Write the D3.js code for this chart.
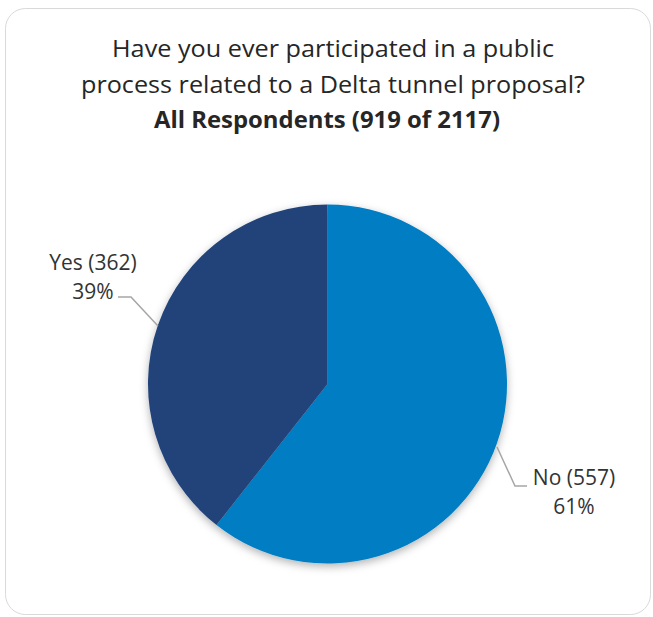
<!DOCTYPE html>
<html>
<head>
<meta charset="utf-8">
<script src="https://cdn.jsdelivr.net/npm/d3@7"></script>
<style>
  html, body { margin: 0; padding: 0; background: #ffffff; }
  svg { display: block; }
</style>
</head>
<body>
<div id="chart"></div>
<script>
// Survey responses
const categories = ["No", "Yes"];
const counts = [557, 362];
const sliceColors = ["#007DC3", "#23437A"];
const titleLines = [
  "Have you ever participated in a public",
  "process related to a Delta tunnel proposal?"
];
const subtitle = "All Respondents (919 of 2117)";

const W = 653, H = 617;
const svg = d3.select("#chart").append("svg")
  .attr("width", W).attr("height", H);

const defs = svg.append("defs");
const shadow = defs.append("filter").attr("id", "pieShadow")
  .attr("x", "-20%").attr("y", "-20%").attr("width", "140%").attr("height", "140%");
shadow.append("feDropShadow")
  .attr("dx", 0).attr("dy", 3).attr("stdDeviation", 4)
  .attr("flood-color", "#000").attr("flood-opacity", 0.3);

// Chart area frame
svg.append("rect")
  .attr("x", 5.5).attr("y", 8.5)
  .attr("width", 645).attr("height", 606)
  .attr("rx", 20).attr("ry", 20)
  .attr("fill", "#fff").attr("stroke", "#d9d9d9").attr("stroke-width", 1);

// Title
const fontFamily = "'Open Sans', 'Noto Sans', sans-serif";
const titleWidths = [442, 504];
const titleBase = [57, 93];
titleLines.forEach((t, i) => {
  svg.append("text")
    .attr("x", 333).attr("y", titleBase[i])
    .attr("text-anchor", "middle")
    .attr("font-family", fontFamily).attr("font-size", 23)
    .attr("fill", "#262626")
    .attr("textLength", titleWidths[i]).attr("lengthAdjust", "spacingAndGlyphs")
    .text(t);
});
svg.append("text")
  .attr("x", 327).attr("y", 128)
  .attr("text-anchor", "middle")
  .attr("font-family", fontFamily).attr("font-size", 23).attr("font-weight", "bold")
  .attr("fill", "#262626")
  .attr("textLength", 346).attr("lengthAdjust", "spacingAndGlyphs")
  .text(subtitle);

// Pie
const cx = 327.5, cy = 384, r = 179.5;
const total = d3.sum(counts);
const data = categories.map((c, i) => ({ cat: c, value: counts[i], color: sliceColors[i] }));
const pie = d3.pie().sort(null).value(d => d.value);
const arcs = pie(data);
const arc = d3.arc().innerRadius(0).outerRadius(r);

const g = svg.append("g").attr("transform", `translate(${cx},${cy})`);
g.append("g").attr("filter", "url(#pieShadow)")
  .selectAll("path").data(arcs).join("path")
  .attr("d", arc)
  .attr("fill", d => d.data.color);

// Data labels with leader lines
const pct = d3.format(".0%");
const labelSpec = {
  "No":  { x: 574, y: 485, line: [[527, 486], [515, 486], [497, 447]] },
  "Yes": { x: 93,  y: 270, line: [[118, 297], [131, 297], [158, 326]] }
};
arcs.forEach(a => {
  const s = labelSpec[a.data.cat];
  svg.append("path")
    .attr("d", d3.line()(s.line))
    .attr("fill", "none").attr("stroke", "#a6a6a6").attr("stroke-width", 1.5);
  const t = svg.append("text")
    .attr("text-anchor", "middle")
    .attr("font-family", fontFamily).attr("font-size", 21)
    .attr("fill", "#333333");
  t.append("tspan").attr("x", s.x).attr("y", s.y)
    .text(`${a.data.cat} (${a.data.value})`);
  t.append("tspan").attr("x", s.x).attr("y", s.y + 29)
    .text(pct(Math.round(a.data.value / total * 100) / 100));
});
</script>
</body>
</html>
